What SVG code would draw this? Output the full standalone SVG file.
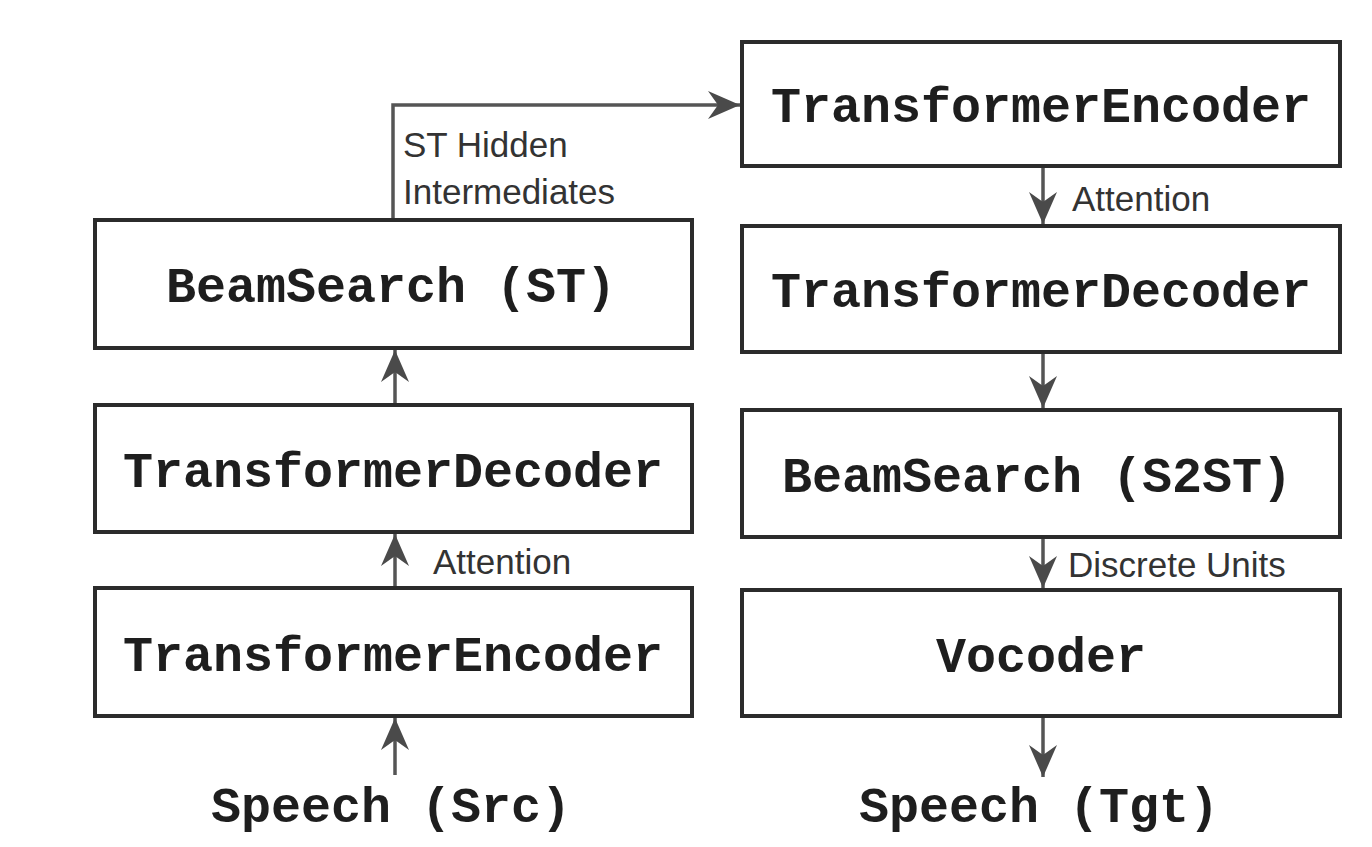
<svg xmlns="http://www.w3.org/2000/svg" width="1372" height="847" viewBox="0 0 1372 847">
  <style>
    .box rect { fill: #ffffff; stroke: #2b2b2b; stroke-width: 4; }
    .mono { font-family: "Liberation Mono", "Courier New", monospace; font-weight: bold; font-size: 50px; fill: #1e1e1e; text-anchor: middle; }
    .lbl { font-family: "Liberation Sans", Arial, sans-serif; font-size: 35px; fill: #333333; }
    .edge { fill: none; stroke: #555555; stroke-width: 3.5; marker-end: url(#head); }
  </style>
  <defs>
    <!-- stealth-style arrowhead shared by all connectors -->
    <marker id="head" markerUnits="userSpaceOnUse" markerWidth="34" markerHeight="30" refX="32" refY="14" orient="auto" viewBox="0 0 34 30">
      <path d="M0,0 L32,14 L0,28 L10,14 Z" fill="#4a4a4a"/>
    </marker>
  </defs>
  <rect width="1372" height="847" fill="#ffffff"/>

  <!-- connectors -->
  <g id="connectors">
    <path class="edge" d="M395,775 L395,718"/>
    <path class="edge" d="M395,588 L395,534"/>
    <path class="edge" d="M395,405 L395,350"/>
    <path class="edge" d="M393,220 L393,105 L740,105"/>
    <path class="edge" d="M1043,166 L1043,224"/>
    <path class="edge" d="M1043,352 L1043,408"/>
    <path class="edge" d="M1043,537 L1043,588"/>
    <path class="edge" d="M1043,716 L1043,777"/>
    <text class="lbl" x="403" y="157">ST Hidden</text>
    <text class="lbl" x="403" y="204">Intermediates</text>
    <text class="lbl" x="433" y="574">Attention</text>
    <text class="lbl" x="1072" y="211">Attention</text>
    <text class="lbl" x="1068" y="577">Discrete Units</text>
  </g>

  <!-- source-side stack -->
  <g id="st-beamsearch" class="box">
    <rect x="95" y="220" width="597" height="128"/>
    <text class="mono" x="391" y="302">BeamSearch (ST)</text>
  </g>
  <g id="st-decoder" class="box">
    <rect x="95" y="405" width="597" height="127"/>
    <text class="mono" x="393" y="487">TransformerDecoder</text>
  </g>
  <g id="st-encoder" class="box">
    <rect x="95" y="588" width="597" height="128"/>
    <text class="mono" x="393" y="671">TransformerEncoder</text>
  </g>
  <g id="speech-src">
    <text class="mono" x="391" y="822">Speech (Src)</text>
  </g>

  <!-- target-side stack -->
  <g id="s2st-encoder" class="box">
    <rect x="742" y="42" width="598" height="124"/>
    <text class="mono" x="1041" y="122">TransformerEncoder</text>
  </g>
  <g id="s2st-decoder" class="box">
    <rect x="742" y="226" width="598" height="126"/>
    <text class="mono" x="1041" y="307">TransformerDecoder</text>
  </g>
  <g id="s2st-beamsearch" class="box">
    <rect x="742" y="410" width="598" height="127"/>
    <text class="mono" x="1037" y="492">BeamSearch (S2ST)</text>
  </g>
  <g id="vocoder" class="box">
    <rect x="742" y="590" width="598" height="126"/>
    <text class="mono" x="1041" y="672">Vocoder</text>
  </g>
  <g id="speech-tgt">
    <text class="mono" x="1039" y="822">Speech (Tgt)</text>
  </g>
</svg>
